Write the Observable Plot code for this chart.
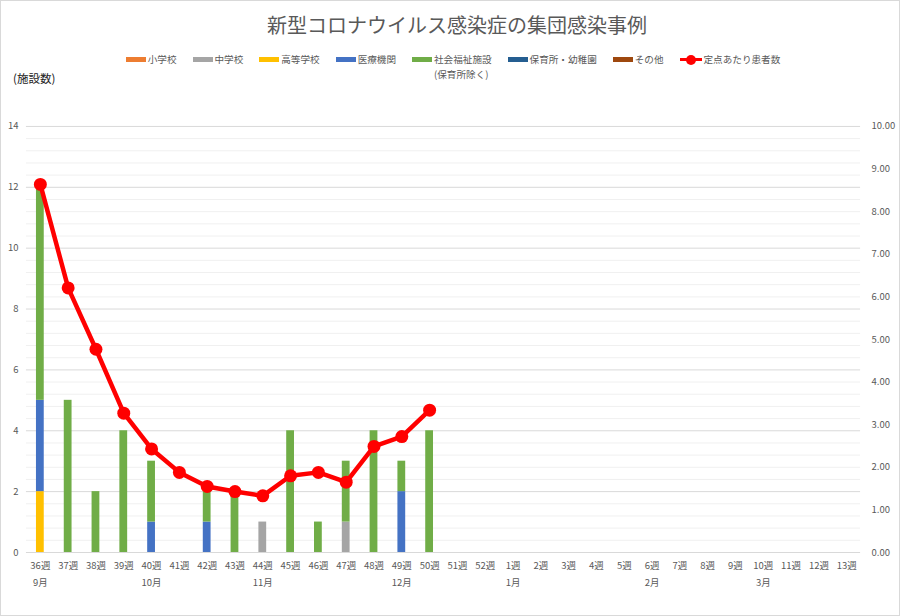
<!DOCTYPE html>
<html><head><meta charset="utf-8">
<script src="https://cdn.jsdelivr.net/npm/d3@7"></script>
<script src="https://cdn.jsdelivr.net/npm/@observablehq/plot@0.6"></script>
<style>
body{margin:0;background:#fff;}
#chart{position:relative;width:900px;height:616px;box-sizing:border-box;border:1px solid #d9d9d9;font-family:"Noto Sans CJK JP",sans-serif;overflow:hidden;background:#fff;}
#title{position:absolute;top:9px;left:6px;width:900px;text-align:center;font-size:20px;color:#595959;line-height:30px;}
#legend{position:absolute;top:51px;left:2px;width:900px;display:flex;justify-content:center;align-items:flex-start;gap:16px;font-size:9.6px;color:#595959;line-height:15px;}
.item{display:flex;align-items:flex-start;gap:2px;}
.sw{width:20px;height:5px;margin-top:5px;}
.ln{position:relative;width:22px;height:15px;}
.ln::before{content:"";position:absolute;left:0;top:6px;width:22px;height:3px;background:#ff0000;}
.ln::after{content:"";position:absolute;left:6px;top:2.5px;width:10px;height:10px;border-radius:50%;background:#ff0000;}
#ylab{position:absolute;left:12px;top:69px;font-size:11.5px;color:#222;}
#plot{position:absolute;left:0;top:100px;}
</style>
</head><body>
<div id="chart">
  <div id="title"></div>
  <div id="legend"></div>
  <div id="ylab"></div>
  <div id="plot"></div>
</div>
<script>
const titleText = "新型コロナウイルス感染症の集団感染事例";
const yLabelText = "(施設数)";
const weeks = ["36週","37週","38週","39週","40週","41週","42週","43週","44週","45週","46週","47週","48週","49週","50週","51週","52週","1週","2週","3週","4週","5週","6週","7週","8週","9週","10週","11週","12週","13週"];
const monthWeeks = ["36週","40週","44週","49週","1週","6週","10週"];
const monthLabels = ["9月","10月","11月","12月","1月","2月","3月"];
const seriesNames = ["小学校","中学校","高等学校","医療機関","社会福祉施設","保育所・幼稚園","その他"];
const seriesColors = ["#ED7D31","#A5A5A5","#FFC000","#4472C4","#70AD47","#255E91","#9E480E"];
const lineName = "定点あたり患者数";
// values for 36週〜50週
const shougakkou   = [0,0,0,0,0,0,0,0,0,0,0,0,0,0,0];
const chuugakkou   = [0,0,0,0,0,0,0,0,1,0,0,1,0,0,0];
const koutou       = [2,0,0,0,0,0,0,0,0,0,0,0,0,0,0];
const iryou        = [3,0,0,0,1,0,1,0,0,0,0,0,0,2,0];
const shakaifukushi= [7,5,2,4,2,0,1,2,0,4,1,2,4,1,4];
const hoikusho     = [0,0,0,0,0,0,0,0,0,0,0,0,0,0,0];
const sonota       = [0,0,0,0,0,0,0,0,0,0,0,0,0,0,0];
const teitenRate   = [8.64,6.21,4.77,3.27,2.43,1.88,1.55,1.43,1.33,1.80,1.88,1.65,2.49,2.72,3.34];
const leftTicks = [0,2,4,6,8,10,12,14];
const rightTicks = [0,1,2,3,4,5,6,7,8,9,10];
const rightMax = 10, leftMax = 14;

document.getElementById("title").textContent = titleText;
document.getElementById("ylab").textContent = yLabelText;

// legend
const legend = document.getElementById("legend");
seriesNames.forEach((n,i)=>{
  const it = document.createElement("div"); it.className="item";
  const sw = document.createElement("div"); sw.className="sw"; sw.style.background=seriesColors[i];
  const tx = document.createElement("div");
  if (n === "社会福祉施設") { tx.innerHTML = n + "<br>(保育所除く)"; } else tx.textContent = n;
  it.appendChild(sw); it.appendChild(tx); legend.appendChild(it);
});
{
  const it = document.createElement("div"); it.className="item";
  const ln = document.createElement("div"); ln.className="ln";
  const tx = document.createElement("div"); tx.textContent = lineName;
  it.appendChild(ln); it.appendChild(tx); legend.appendChild(it);
}

const seriesValues = [shougakkou, chuugakkou, koutou, iryou, shakaifukushi, hoikusho, sonota];
const barData = [];
seriesNames.forEach((n,si)=>{
  seriesValues[si].forEach((v,i)=>{ barData.push({week: weeks[i], type: n, value: v}); });
});
const lineData = teitenRate.map((r,i)=>({week: weeks[i], rate: r}));
const k = leftMax / rightMax;
const minorTicks = d3.range(0, 14.001, 0.4).filter(v => Math.abs(v/2 - Math.round(v/2)) > 1e-6);
const monthOf = Object.fromEntries(monthWeeks.map((w,i)=>[w, monthLabels[i]]));

const plot = Plot.plot({
  width: 900, height: 516,
  marginTop: 25, marginBottom: 64, marginLeft: 25, marginRight: 39,
  style: {fontFamily: "'Noto Sans CJK JP', sans-serif", fontSize: "9.5px", color: "#595959", background: "transparent"},
  x: {type: "band", domain: weeks, paddingInner: 0.72, paddingOuter: 0.36, round: false, axis: null},
  y: {domain: [0, leftMax], axis: null},
  color: {domain: seriesNames, range: seriesColors},
  marks: [
    Plot.ruleY(minorTicks, {stroke: "#f0f0f0", strokeWidth: 1}),
    Plot.ruleY(leftTicks, {stroke: "#d9d9d9", strokeWidth: 1}),
    Plot.barY(barData, {x: "week", y: "value", fill: "type", order: seriesNames}),
    Plot.line(lineData, {x: "week", y: d => d.rate * k, stroke: "#ff0000", strokeWidth: 4.5, strokeLinejoin: "round"}),
    Plot.dot(lineData, {x: "week", y: d => d.rate * k, r: 6.5, fill: "#ff0000", stroke: "none"}),
    Plot.axisY(leftTicks, {anchor: "left", tickSize: 0, tickPadding: 8, label: null}),
    Plot.axisY(rightTicks.map(v => v * k), {anchor: "right", tickSize: 0, tickPadding: 11, label: null, tickFormat: d => (d / k).toFixed(2)}),
    Plot.axisX({tickSize: 0, tickPadding: 10, label: null}),
    Plot.axisX({tickSize: 0, tickPadding: 27, label: null, tickFormat: d => monthOf[d] || ""})
  ]
});
document.getElementById("plot").appendChild(plot);
</script>
</body></html>
